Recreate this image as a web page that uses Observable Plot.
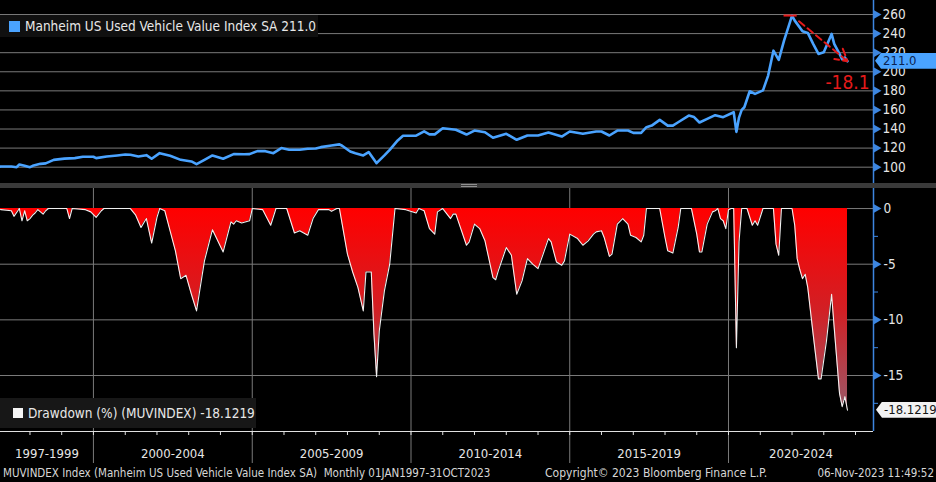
<!DOCTYPE html>
<html><head><meta charset="utf-8">
<script src="https://cdn.jsdelivr.net/npm/d3@7"></script>
<script src="https://cdn.jsdelivr.net/npm/@observablehq/plot@0.6"></script>
<style>
html,body{margin:0;padding:0;background:#000;}
#chart{position:relative;width:936px;height:482px;background:#000;overflow:hidden;font-family:"DejaVu Sans Condensed","Liberation Sans Narrow","Arial Narrow",sans-serif;color:#e6e6e6;}
#top,#bottom{position:absolute;left:0;}
#top{top:0}
#bottom{top:188px}
#sep{position:absolute;left:0;top:183px;width:936px;height:5px;background:#3a3a3a;}
#handle{position:absolute;left:461px;top:184px;width:16px;height:3px;border-top:1px solid #909090;border-bottom:1px solid #909090;box-sizing:border-box}
.legend{position:absolute;font-size:13.5px;color:#e8e8e8;white-space:nowrap;display:flex;align-items:center;box-sizing:border-box}
.sw{display:block;flex-shrink:0;margin-right:5px}
.flag{position:absolute;font-size:13px;line-height:16px;height:16px;box-sizing:border-box;white-space:nowrap;clip-path:polygon(0 50%,6px 0,100% 0,100% 100%,6px 100%)}
.foot{position:absolute;top:466px;font-size:11.5px;color:#d6d6d6;white-space:nowrap}
</style></head>
<body>
<div id="chart">
  <div id="top"></div>
  <div id="sep"></div><div id="handle"></div>
  <div id="bottom"></div>
</div>
<script>
// ---------- DATA ----------
const idxDates = ["1997-01","1997-02","1997-06","1997-08","1997-09","1997-11","1998-01","1998-02","1998-05","1998-07","1998-10","1999-02","1999-06","1999-09","2000-01","2000-02","2000-06","2000-10","2001-01","2001-03","2001-06","2001-09","2001-11","2002-02","2002-06","2002-10","2003-02","2003-04","2003-07","2003-10","2004-02","2004-06","2004-10","2004-12","2005-03","2005-06","2005-09","2005-12","2006-03","2006-07","2006-10","2007-01","2007-03","2007-07","2007-10","2007-11","2008-02","2008-04","2008-07","2008-09","2008-12","2009-03","2009-05","2009-08","2009-10","2010-03","2010-06","2010-08","2010-10","2011-01","2011-06","2011-10","2012-01","2012-05","2012-08","2013-01","2013-05","2013-09","2014-01","2014-05","2014-10","2015-01","2015-06","2015-11","2016-01","2016-04","2016-07","2016-11","2017-01","2017-04","2017-06","2017-08","2017-11","2018-02","2018-04","2018-06","2018-10","2018-12","2019-02","2019-05","2019-08","2019-11","2020-03","2020-04","2020-05","2020-06","2020-07","2020-09","2020-11","2021-02","2021-04","2021-06","2021-08","2021-10","2022-01","2022-02","2022-05","2022-07","2022-09","2022-11","2023-01","2023-04","2023-05","2023-07","2023-08","2023-09","2023-10"];
const idxValues = [100.5,100.7,100.7,100.0,102.8,101.4,100.0,101.4,103.5,104.0,107.7,109.0,109.5,110.9,110.9,109.5,111.2,112.3,113.3,113.0,111.2,112.6,108.8,114.7,112.0,107.7,106.0,103.2,107.7,112.3,108.8,113.7,113.5,113.7,116.8,116.8,114.7,120.0,118.2,118.2,119.3,119.6,121.0,122.8,123.9,122.5,116.5,114.7,112.3,115.8,104.2,112.3,118.2,128.0,133.0,133.0,137.5,134.4,134.4,140.8,139.2,134.2,138.4,136.6,130.8,135.0,128.7,133.2,133.2,136.3,132.1,137.4,135.0,137.4,137.4,133.2,138.4,138.4,136.0,136.0,141.9,143.6,149.6,143.6,143.6,147.1,154.1,152.5,146.8,150.6,154.5,152.4,157.6,137.0,152.0,160.0,162.8,179.6,176.8,180.5,196.0,222.1,212.5,232.7,258.9,253.6,242.4,240.7,229.2,218.7,220.4,239.7,229.2,218.7,213.0,215.0,211.0];

const ddDates = ["1997-01","1997-02","1997-06","1997-07","1997-09","1997-10","1997-11","1997-12","1998-01","1998-02","1998-03","1998-04","1998-06","1998-07","1998-08","1999-03","1999-04","1999-05","1999-10","1999-12","2000-02","2000-04","2000-05","2001-03","2001-05","2001-07","2001-09","2001-11","2002-01","2002-02","2002-04","2002-06","2002-08","2002-10","2002-12","2003-02","2003-04","2003-05","2003-07","2003-10","2004-02","2004-05","2004-06","2004-07","2004-09","2004-12","2005-01","2005-05","2005-08","2005-10","2006-02","2006-05","2006-07","2006-10","2006-12","2007-02","2007-06","2007-07","2007-09","2007-10","2008-01","2008-03","2008-05","2008-07","2008-08","2008-10","2008-11","2008-12","2009-01","2009-03","2009-05","2009-07","2009-11","2010-03","2010-04","2010-06","2010-08","2010-10","2010-11","2011-01","2011-04","2011-05","2011-06","2011-10","2011-11","2012-01","2012-03","2012-05","2012-08","2012-09","2012-10","2013-01","2013-03","2013-05","2013-07","2013-09","2013-11","2014-01","2014-03","2014-05","2014-06","2014-08","2014-10","2014-11","2015-01","2015-04","2015-06","2015-08","2015-10","2015-11","2016-01","2016-02","2016-04","2016-05","2016-07","2016-09","2016-11","2016-12","2017-02","2017-04","2017-05","2017-06","2017-11","2018-01","2018-02","2018-04","2018-06","2018-07","2018-11","2019-01","2019-02","2019-03","2019-05","2019-07","2019-08","2019-09","2019-10","2019-11","2019-12","2020-01","2020-02","2020-03","2020-04","2020-05","2020-06","2020-08","2020-10","2020-11","2020-12","2021-02","2021-06","2021-07","2021-08","2021-09","2022-01","2022-02","2022-03","2022-04","2022-05","2022-06","2022-07","2022-09","2022-11","2022-12","2023-02","2023-04","2023-05","2023-07","2023-08","2023-09","2023-10"];
const ddValues = [0,-0.1,-0.2,-0.7,0,-1.1,-0.2,-1.1,-0.9,-0.6,-0.4,-0.1,-0.5,-0.2,0,0,-0.9,0,-0.1,-0.3,-0.8,-0.2,0,0,-0.6,-1.7,-0.9,-3.1,-0.8,0,-0.2,-2.0,-3.8,-6.3,-6.0,-7.7,-9.2,-7.7,-4.7,-1.9,-3.9,-1.2,-1.4,-1.1,-1.3,-1.1,0,-0.1,-1.5,0,0,-2.2,-2.0,-2.4,-0.9,-0.1,-0.1,-0.25,0,0,-4.1,-5.7,-7.1,-9.2,-5.7,-5.7,-11.3,-15.1,-11.0,-7.4,-5.0,0,-0.1,-0.4,0,-0.2,-1.8,-2.3,-0.3,0,-0.9,-0.5,-0.5,-3.3,-3.0,-1.4,-1.8,-2.9,-6.2,-6.4,-5.6,-3.5,-4.2,-7.7,-6.5,-4.5,-5.0,-5.4,-4.1,-2.7,-3.0,-4.8,-5.1,-4.7,-2.3,-2.7,-3.3,-2.9,-2.3,-2.1,-2.0,-2.6,-4.3,-4.1,-1.4,-0.9,-1.4,-2.4,-2.6,-3.0,-2.4,0,0,-2.6,-3.8,-4.0,-1.7,0,0,-2.3,-3.9,-3.9,-1.4,-0.3,-0.2,0,-0.9,-1.1,-1.8,-0.1,0,0,-12.5,-3.0,0,0,-1.5,-1.1,-1.5,0,0,-3.2,-4.2,0,0,-1.5,-4.5,-5.5,-6.3,-5.9,-7.1,-11.3,-15.3,-15.3,-11.9,-7.7,-10.7,-16.6,-17.8,-16.9,-18.1219];

const idxTicks = [100,120,140,160,180,200,220,240,260];
const ddTicks = [0,-5,-10,-15];
const ddMinorTicks = [-2.5,-7.5,-12.5,-17.5];
const periodLabels = ["1997-1999","2000-2004","2005-2009","2010-2014","2015-2019","2020-2024"];
const periodStarts = ["1997","2000","2005","2010","2015","2020"];
const periodEnds   = ["2000","2005","2010","2015","2020","2025"];
const seriesName = "Manheim US Used Vehicle Value Index SA";
const ddName = "Drawdown (%) (MUVINDEX)";
const footLeft = "MUVINDEX Index (Manheim US Used Vehicle Value Index SA)\u00a0 Monthly 01JAN1997-31OCT2023";
const footMid = "Copyright\u00a9 2023 Bloomberg Finance L.P.";
const footRight = "06-Nov-2023 11:49:52";

// ---------- BUILD ----------
const parseM = d3.utcParse("%Y-%m");
const parseY = d3.utcParse("%Y");
const idx = idxDates.map((d, i) => ({date: parseM(d), value: idxValues[i]}));
const dd = ddDates.map((d, i) => ({date: parseM(d), value: ddValues[i]}));
const xDomain = [new Date(Date.UTC(1997, 0, 27)), new Date(Date.UTC(2024, 6, 26))];
const idxYDomain = [82.9, 274.7];
const ddYDomain = [-20.03, 1.8];
const BLUE = "#3d86e0";
const LINE = "#4aa3ff";
const RED = "#e41a1a";
const GRID = "#7a7a7a";
const FONT = '"DejaVu Sans Condensed","Liberation Sans Narrow","Arial Narrow",sans-serif';

const peak = idx[d3.maxIndex(idx, d => d.value)];
const last = idx[idx.length - 1];
const ddLast = dd[dd.length - 1];

const periods = periodLabels.map((label, i) => {
  const s = Math.max(+parseY(periodStarts[i]), +xDomain[0]);
  const e = Math.min(+parseY(periodEnds[i]), +xDomain[1]);
  return {label, mid: new Date((s + e) / 2)};
});
const boundaries = periodStarts.slice(1).map(parseY);
const years = d3.utcYear.range(parseY("1998"), xDomain[1]);

const topPlot = Plot.plot({
  width: 936, height: 183,
  marginLeft: 0, marginRight: 63, marginTop: 0, marginBottom: 0,
  style: {background: "transparent", color: "#e6e6e6", fontFamily: FONT, fontSize: "13px"},
  x: {type: "utc", domain: xDomain, axis: null},
  y: {domain: idxYDomain, axis: null},
  marks: [
    Plot.gridY({ticks: idxTicks, stroke: GRID, strokeOpacity: 1}),
    Plot.ruleX([xDomain[1]], {stroke: BLUE, strokeWidth: 1.5}),
    Plot.axisY({anchor: "right", ticks: idxTicks, tickSize: 0, tickPadding: 9, label: null, fill: "#e6e6e6", fontSize: 13.5}),
    Plot.dot(idxTicks, {y: d => d, frameAnchor: "right", symbol: "triangle", rotate: 90, r: 3.2, fill: BLUE, stroke: "none", dx: 3}),
    Plot.lineY(idx, {x: "date", y: "value", stroke: LINE, strokeWidth: 2.6, clip: true}),
    Plot.ruleY([peak], {y: "value", x1: d => d3.utcMonth.offset(d.date, -3), x2: d => d3.utcMonth.offset(d.date, 2), stroke: RED, strokeWidth: 2}),
    Plot.arrow([peak], {x1: () => peak.date, y1: () => peak.value, x2: () => last.date, y2: () => last.value,
      stroke: RED, strokeWidth: 2, strokeDasharray: "7,4", headLength: 10, insetStart: 9}),
    Plot.text([last], {x: "date", y: "value", text: () => ddLast.value.toFixed(1), fill: RED, fontSize: 19, dy: 22, textAnchor: "middle"})
  ]
});

const gradient = () => {
  const ns = "http://www.w3.org/2000/svg";
  const defs = document.createElementNS(ns, "defs");
  const g = document.createElementNS(ns, "linearGradient");
  g.setAttribute("id", "ddgrad");
  g.setAttribute("x1", "0"); g.setAttribute("y1", "0"); g.setAttribute("x2", "0"); g.setAttribute("y2", "1");
  [["0", "#ff0000"], ["0.5", "#d21f24"], ["1", "#9a5868"]].forEach(([o, c]) => {
    const s = document.createElementNS(ns, "stop");
    s.setAttribute("offset", o); s.setAttribute("stop-color", c);
    g.appendChild(s);
  });
  defs.appendChild(g);
  return defs;
};

const botPlot = Plot.plot({
  width: 936, height: 278,
  marginLeft: 0, marginRight: 63, marginTop: 0, marginBottom: 35,
  style: {background: "transparent", color: "#e6e6e6", fontFamily: FONT, fontSize: "13px"},
  x: {type: "utc", domain: xDomain, axis: null},
  y: {domain: ddYDomain, axis: null},
  marks: [
    gradient,
    Plot.gridY({ticks: ddTicks, stroke: GRID, strokeOpacity: 1}),
    Plot.ruleX(boundaries, {stroke: GRID, insetBottom: -32}),
    Plot.areaY(dd, {x: "date", y: "value", fill: "url(#ddgrad)", clip: true}),
    Plot.lineY(dd, {x: "date", y: "value", stroke: "#f0f0f0", strokeWidth: 1.1, clip: true}),
    Plot.ruleY([ddYDomain[0]], {stroke: "#e0e0e0", strokeWidth: 1.2}),
    Plot.axisX({ticks: years, tickSize: 4, tickFormat: () => "", label: null, stroke: "#e0e0e0"}),
    Plot.text(periods, {x: "mid", text: "label", frameAnchor: "bottom", dy: 26, fill: "#e6e6e6", fontSize: 13}),
    Plot.ruleX([xDomain[1]], {stroke: BLUE, strokeWidth: 1.5}),
    Plot.axisY({anchor: "right", ticks: ddTicks, tickSize: 0, tickPadding: 10, label: null, tickFormat: d => String(d), fill: "#e6e6e6", fontSize: 13.5}),
    Plot.axisY({anchor: "right", ticks: ddMinorTicks, tickSize: 4, tickFormat: () => "", label: null, stroke: BLUE}),
    Plot.dot(ddTicks, {y: d => d, frameAnchor: "right", symbol: "triangle", rotate: 90, r: 3.2, fill: BLUE, stroke: "none", dx: 3})
  ]
});

document.getElementById("top").appendChild(topPlot);
document.getElementById("bottom").appendChild(botPlot);

function yPos(plot, v) {
  const s = plot.scale("y");
  if (s && typeof s.apply === "function") return s.apply(v);
  const [d0, d1] = s.domain, [r0, r1] = s.range;
  return r0 + (v - d0) / (d1 - d0) * (r1 - r0);
}

const chart = document.getElementById("chart");
function addEl(cls, css, html) {
  const el = document.createElement("div");
  el.className = cls;
  Object.assign(el.style, css);
  el.innerHTML = html;
  chart.appendChild(el);
  return el;
}

// legends
addEl("legend", {left: "0px", top: "15px", width: "318px", height: "22px", background: "#101010", paddingLeft: "9px"},
  `<span class="sw" style="width:11px;height:11px;background:${LINE}"></span><span>${seriesName} ${last.value.toFixed(1)}</span>`);
addEl("legend", {left: "0px", top: "398px", width: "256px", height: "30px", background: "#171717", paddingLeft: "13px"},
  `<span class="sw" style="width:10px;height:10px;background:#f4f4f4"></span><span>${ddName} ${ddLast.value.toFixed(4)}</span>`);

// value flags on the right axes
const yTop = yPos(topPlot, last.value);
addEl("flag", {left: "875px", width: "61px", top: (yTop - 8) + "px", background: LINE, color: "#0b2452", paddingLeft: "8px"}, last.value.toFixed(1));
const yBot = 188 + yPos(botPlot, ddLast.value);
addEl("flag", {left: "876px", width: "60px", top: (yBot - 8) + "px", background: "#f2f2f2", color: "#151515", paddingLeft: "8px"}, ddLast.value.toFixed(4));

// footer
addEl("foot", {left: "3px"}, footLeft);
addEl("foot", {left: "545px", fontSize: "12px"}, footMid);
addEl("foot", {right: "2px"}, footRight);
</script>
</body></html>
